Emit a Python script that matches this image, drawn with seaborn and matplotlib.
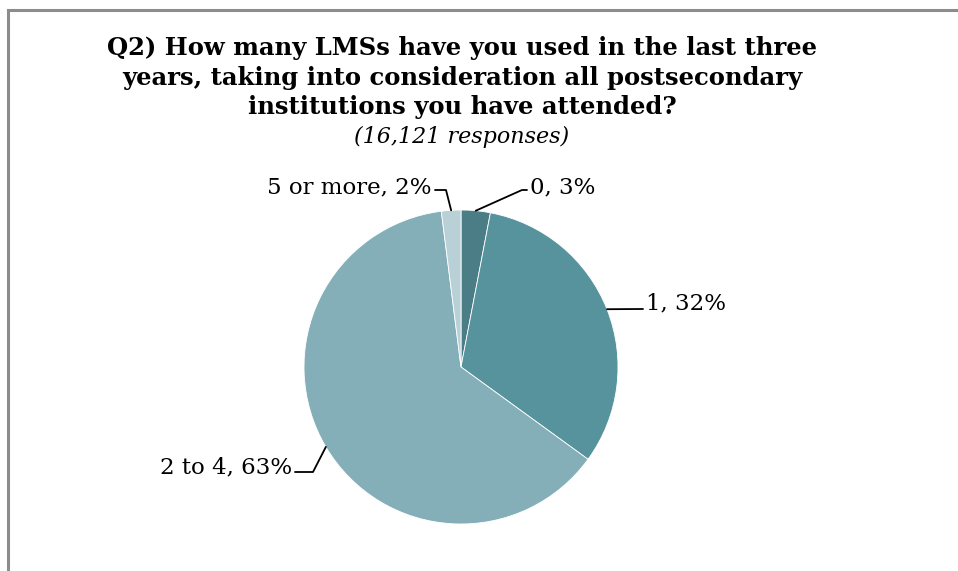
"""Pie chart: number of LMSs used in the last three years."""
import numpy as np
import matplotlib
matplotlib.use('Agg')
import matplotlib.pyplot as plt
from matplotlib.patches import Rectangle
import seaborn as sns

CATEGORIES = ["0", "1", "2 to 4", "5 or more"]
PERCENTS = [3, 32, 63, 2]
COLORS = ["#4a7d86", "#57939d", "#85afb8", "#b9d1d6"]

TITLE_LINES = [
    "Q2) How many LMSs have you used in the last three",
    "years, taking into consideration all postsecondary",
    "institutions you have attended?",
]
SUBTITLE = "(16,121 responses)"

sns.set_theme(style="white")
plt.rcParams['font.family'] = ['DejaVu Serif']
plt.rcParams['text.color'] = 'black'

W, H = 958, 571
fig = plt.figure(figsize=(W / 100, H / 100), dpi=100)
ax = fig.add_axes([0, 0, 1, 1])

# outer frame (runs off the right and bottom edge)
ax.add_patch(Rectangle((8.5, -10), W, H - 9.5 + 10, fill=False,
                       edgecolor="#8c8c8c", linewidth=2.2))

cx, cy, r = 461, H - 367, 157
wedges, _ = ax.pie(PERCENTS, colors=COLORS, startangle=90, counterclock=False,
                   center=(cx, cy), radius=r, frame=True,
                   wedgeprops=dict(linewidth=0.6, edgecolor="white"))
ax.set_xlim(0, W)
ax.set_ylim(0, H)
ax.set_aspect('equal')
ax.axis('off')

# labels: (text x, text y, ha, elbow point) in pixel coordinates from top-left
label_pos = {
    "0": (530, 187, "left", (522, 190)),
    "1": (646, 303, "left", (642, 309)),
    "2 to 4": (292, 467, "right", (313, 472)),
    "5 or more": (432, 187, "right", (446, 190)),
}
for w, cat, pct in zip(wedges, CATEGORIES, PERCENTS):
    ang = np.deg2rad((w.theta1 + w.theta2) / 2)
    px, py = cx + r * np.cos(ang), cy + r * np.sin(ang)
    tx, ty, ha, (ex, ey) = label_pos[cat]
    ey = H - ey
    end = tx - 3 if ha == "left" else tx + 3
    ax.plot([px, ex, end], [py, ey, ey], color="black", lw=1.3)
    ax.text(tx, H - ty, f"{cat}, {pct}%", ha=ha, va="center", fontsize=16.5,
            color="black")

for i, line in enumerate(TITLE_LINES):
    fig.text(462 / W, 1 - (48 + 29.5 * i) / H, line, ha="center", va="center",
             fontsize=17.5, fontweight="bold", color="black")
fig.text(462 / W, 1 - 137 / H, SUBTITLE, ha="center", va="center", fontsize=16,
         style="italic", color="black")

fig.savefig("out.png", dpi=100)
